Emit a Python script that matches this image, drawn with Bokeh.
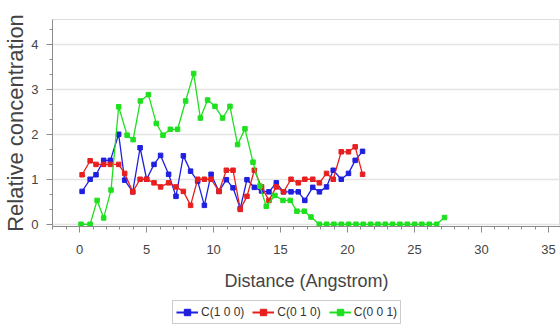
from bokeh.plotting import figure
from bokeh.layouts import column
from bokeh.models import Range1d, Legend, LegendItem, SingleIntervalTicker
from bokeh.embed import file_html
from bokeh.resources import INLINE

# C(1 0 0) and C(0 1 0) share the same distances
distance = [0.18, 0.78, 1.22, 1.79, 2.29, 2.91, 3.36, 3.96, 4.51, 5.00,
            5.55, 6.04, 6.64, 7.19, 7.74, 8.28, 8.81, 9.31, 9.81, 10.40,
            10.95, 11.45, 11.99, 12.49, 13.04, 13.58, 14.13, 14.68, 15.22, 15.78,
            16.32, 16.81, 17.40, 17.90, 18.43, 18.93, 19.53, 20.07, 20.57, 21.12]
c100 = [0.73, 1.00, 1.10, 1.42, 1.42, 2.00, 0.98, 0.72, 1.70, 1.00,
        1.33, 1.53, 1.11, 0.62, 1.52, 1.18, 0.96, 0.42, 1.11, 0.73,
        0.99, 0.81, 0.35, 0.99, 0.82, 0.74, 0.72, 0.92, 0.72, 0.72,
        0.72, 0.53, 0.82, 0.72, 0.83, 1.20, 1.00, 1.13, 1.42, 1.62]
c010 = [1.10, 1.41, 1.33, 1.33, 1.33, 1.33, 1.13, 0.72, 1.00, 1.00,
        0.92, 0.83, 0.92, 0.83, 0.73, 0.42, 1.00, 1.00, 1.00, 0.73,
        1.20, 1.20, 0.33, 0.62, 1.20, 0.83, 0.53, 0.83, 0.72, 1.00,
        0.92, 1.00, 1.00, 0.92, 1.13, 1.00, 1.61, 1.61, 1.72, 1.11]
distance_001 = [0.10, 0.78, 1.30, 1.79, 2.34, 2.91, 3.54, 3.99, 4.53, 5.13,
                5.72, 6.22, 6.77, 7.31, 7.91, 8.51, 9.01, 9.55, 10.10, 10.67,
                11.22, 11.79, 12.34, 12.94, 13.45, 13.93, 14.58, 15.18, 15.72, 16.22,
                16.77, 17.27, 17.89, 18.44, 18.98, 19.53, 20.08, 20.63, 21.17, 21.72,
                22.27, 22.82, 23.36, 23.91, 24.46, 25.01, 25.55, 26.10, 26.65, 27.24]
c001 = [0.00, 0.00, 0.53, 0.14, 0.76, 2.61, 1.98, 1.88, 2.74, 2.88,
        2.24, 1.98, 2.11, 2.11, 2.74, 3.35, 2.36, 2.76, 2.62, 2.36,
        2.62, 1.77, 2.12, 1.38, 0.85, 0.40, 0.64, 0.53, 0.53, 0.29,
        0.29, 0.16, 0.00, 0.00, 0.00, 0.00, 0.00, 0.00, 0.00, 0.00,
        0.00, 0.00, 0.00, 0.00, 0.00, 0.00, 0.00, 0.00, 0.00, 0.15]

labels = ["C(1 0 0)", "C(0 1 0)", "C(0 0 1)"]
colors = ["#1f1fe0", "#e81f1f", "#1fe01f"]
series = [(distance, c100), (distance, c010), (distance_001, c001)]

FONT = "Liberation Sans"

p = figure(width=560, height=300, output_backend="svg", toolbar_location=None,
           x_range=Range1d(-2.03, 35.9), y_range=Range1d(-0.05, 4.55),
           min_border_left=52, min_border_right=0, min_border_top=19, min_border_bottom=74,
           background_fill_color="white", border_fill_color="white")
p.outline_line_color = "#dddddd"

p.xaxis.ticker = SingleIntervalTicker(interval=5, num_minor_ticks=5)
p.yaxis.ticker = SingleIntervalTicker(interval=1, num_minor_ticks=3)
for ax in (p.xaxis, p.yaxis):
    ax.axis_line_color = "#8c8c8c"
    ax.major_tick_line_color = "#8c8c8c"
    ax.minor_tick_line_color = "#8c8c8c"
    ax.major_tick_in = 0
    ax.major_tick_out = 6
    ax.minor_tick_in = 0
    ax.minor_tick_out = 3
    ax.major_label_text_font = FONT
    ax.major_label_text_font_size = "13px"
    ax.major_label_text_color = "#444444"
    ax.axis_label_text_font = FONT
    ax.axis_label_text_font_style = "normal"
    ax.axis_label_text_color = "#444444"
p.xaxis.axis_label = "Distance (Angstrom)"
p.yaxis.axis_label = "Relative concentration"
p.xaxis.axis_label_text_font_size = "18px"
p.yaxis.axis_label_text_font_size = "22px"
p.xaxis.major_label_standoff = 12
p.yaxis.major_label_standoff = 8
p.xaxis.axis_label_standoff = 14
p.yaxis.axis_label_standoff = 0

p.xgrid.visible = False
p.ygrid.grid_line_color = "#e4e4e4"
p.ygrid.grid_line_width = 1.5

for (xs, ys), col in zip(series, colors):
    p.line(xs, ys, line_color=col, line_width=1.3)
    p.scatter(xs, ys, marker="square", size=4.5, fill_color=col, line_color=col)

# legend strip below the chart; its renderers use the same data but lie
# outside this strip's (empty) ranges, so only the legend itself is seen
lg = figure(width=560, height=33, output_backend="svg", toolbar_location=None,
            x_range=Range1d(1000, 1001), y_range=Range1d(1000, 1001),
            x_axis_location=None, y_axis_location=None,
            min_border_left=0, min_border_right=0, min_border_top=0, min_border_bottom=0,
            background_fill_color="white", border_fill_color="white")
lg.outline_line_color = None
lg.grid.visible = False
items = []
for lab, col, (xs, ys) in zip(labels, colors, series):
    r1 = lg.line(xs, ys, line_color=col, line_width=2)
    r2 = lg.scatter(xs, ys, marker="asterisk", size=9, line_color=col, line_width=2.5)
    r3 = lg.scatter(xs, ys, marker="square", size=5, fill_color=col, line_color=col)
    items.append(LegendItem(label=lab, renderers=[r1, r2, r3]))

legend = Legend(items=items, orientation="horizontal", location=(120, 9),
                border_line_color="#9a9a9a", label_text_font=FONT,
                label_text_font_size="12px", label_text_color="#333333",
                glyph_width=22, glyph_height=16, label_standoff=3, spacing=8,
                padding=3, margin=0, label_height=16,
                background_fill_color="white", background_fill_alpha=1.0)
lg.add_layout(legend, "center")

layout = column(p, lg, spacing=0)
open("out.html", "w").write(file_html(layout, INLINE))
